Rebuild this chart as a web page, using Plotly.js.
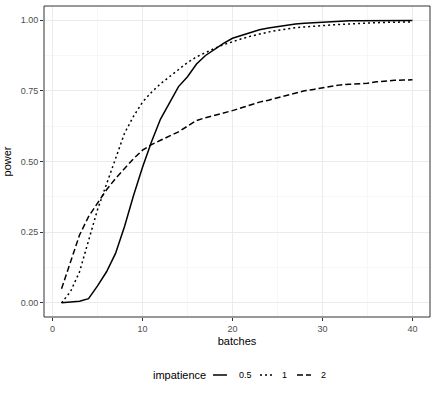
<!DOCTYPE html>
<html>
<head>
<meta charset="utf-8">
<script src="https://cdn.plot.ly/plotly-3.0.1.min.js"></script>
<style>
  body { margin: 0; background: #fff; }
  #chart { width: 436px; height: 396px; }
</style>
</head>
<body>
<div id="chart"></div>
<script>
const batches = [];
for (let i = 1; i <= 40; i++) batches.push(i);

// impatience = 0.5
const power05 = [0.000, 0.002, 0.006, 0.015, 0.060, 0.110, 0.175, 0.270, 0.380, 0.480,
                 0.570, 0.650, 0.710, 0.765, 0.800, 0.845, 0.875, 0.898, 0.918, 0.936,
                 0.946, 0.956, 0.966, 0.972, 0.977, 0.982, 0.986, 0.989, 0.991, 0.993,
                 0.994, 0.996, 0.998, 0.998, 0.998, 0.998, 0.999, 0.999, 0.999, 0.999];
// impatience = 1
const power1 = [0.000, 0.040, 0.110, 0.220, 0.330, 0.420, 0.510, 0.600, 0.660, 0.710,
                0.745, 0.775, 0.800, 0.825, 0.850, 0.870, 0.886, 0.900, 0.913, 0.924,
                0.934, 0.943, 0.951, 0.958, 0.964, 0.969, 0.973, 0.976, 0.979, 0.981,
                0.983, 0.985, 0.987, 0.988, 0.990, 0.991, 0.992, 0.993, 0.994, 0.994];
// impatience = 2
const power2 = [0.050, 0.145, 0.240, 0.305, 0.355, 0.400, 0.440, 0.475, 0.510, 0.540,
                0.560, 0.575, 0.590, 0.605, 0.625, 0.645, 0.655, 0.663, 0.672, 0.680,
                0.690, 0.700, 0.710, 0.717, 0.725, 0.735, 0.742, 0.750, 0.755, 0.760,
                0.765, 0.771, 0.773, 0.774, 0.777, 0.782, 0.785, 0.787, 0.788, 0.789];

const levels = ['0.5', '1', '2'];
const xTicks = [0, 10, 20, 30, 40];
const yTicks = [0, 0.25, 0.5, 0.75, 1];

const series = [power05, power1, power2];
const dashes = ['solid', '2px,3px', '6px,3px'];

const traces = series.map((ys, i) => ({
  x: batches,
  y: ys,
  type: 'scatter',
  mode: 'lines',
  name: levels[i],
  showlegend: false,
  line: { color: '#000', width: 1.5, dash: dashes[i] }
}));

const axisBase = {
  showline: false,
  zeroline: false,
  ticks: 'outside',
  ticklen: 3,
  tickwidth: 1,
  tickcolor: '#333333',
  gridcolor: '#ebebeb',
  gridwidth: 1,
  tickfont: { family: 'Liberation Sans, Arial, sans-serif', size: 9, color: '#4d4d4d' }
};

// legend drawn below the panel (ggplot style keys)
const mL = 44, mR = 6, W = 436;
const pw = W - mL - mR;
const px = p => (p - mL) / pw;
const legY = (317 - 375) / 311;
const keyX = [[213, 227], [260, 274], [297, 311]];
const labX = [237, 280, 319];

const shapes = [{
  type: 'rect', xref: 'paper', yref: 'paper', x0: 0, x1: 1, y0: 0, y1: 1,
  line: { color: '#333333', width: 1 }, fillcolor: 'rgba(0,0,0,0)', layer: 'above'
}];
const annotations = [{
  xref: 'paper', yref: 'paper', x: px(208), y: legY, xanchor: 'right', yanchor: 'middle',
  text: 'impatience', showarrow: false, font: { size: 11, color: '#000' }
}];
levels.forEach((lv, i) => {
  shapes.push({
    type: 'line', xref: 'paper', yref: 'paper',
    x0: px(keyX[i][0]), x1: px(keyX[i][1]), y0: legY, y1: legY,
    line: { color: '#000', width: 1.5, dash: dashes[i] }
  });
  annotations.push({
    xref: 'paper', yref: 'paper', x: px(labX[i]), y: legY, xanchor: 'left', yanchor: 'middle',
    text: lv, showarrow: false, font: { size: 9, color: '#000' }
  });
});

const layout = {
  width: 436,
  height: 396,
  margin: { l: mL, r: mR, t: 6, b: 79 },
  paper_bgcolor: '#fff',
  plot_bgcolor: '#fff',
  font: { family: 'Liberation Sans, Arial, sans-serif', color: '#000' },
  showlegend: false,
  xaxis: Object.assign({}, axisBase, {
    range: [-0.95, 41.95],
    tickvals: xTicks,
    ticktext: xTicks.map(String),
    minor: { tickvals: [5, 15, 25, 35], showgrid: true, gridcolor: '#f2f2f2', gridwidth: 0.6, ticks: '' },
    title: { text: 'batches', font: { size: 11, color: '#000' }, standoff: 4 }
  }),
  yaxis: Object.assign({}, axisBase, {
    range: [-0.05, 1.05],
    tickvals: yTicks,
    ticktext: yTicks.map(v => v.toFixed(2)),
    minor: { tickvals: [0.125, 0.375, 0.625, 0.875], showgrid: true, gridcolor: '#f2f2f2', gridwidth: 0.6, ticks: '' },
    title: { text: 'power', font: { size: 11, color: '#000' }, standoff: 6 }
  }),
  shapes: shapes,
  annotations: annotations
};

Plotly.newPlot('chart', traces, layout, { displayModeBar: false, staticPlot: true });
</script>
</body>
</html>
